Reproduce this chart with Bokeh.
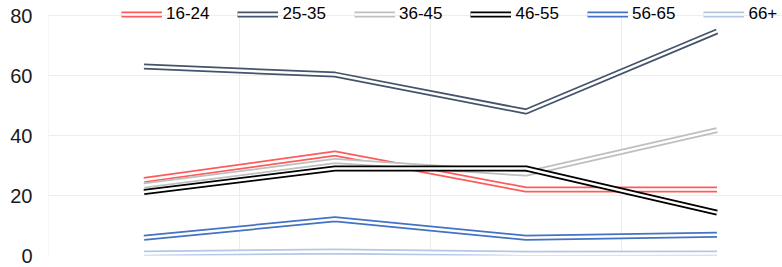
from bokeh.plotting import figure
from bokeh.models import Range1d, FixedTicker, Legend, LegendItem
from bokeh.embed import file_html
from bokeh.resources import INLINE

# categories (4 unlabeled positions)
x_pos = [0, 1, 2, 3]
category_bounds = [-0.5, 0.5, 1.5, 2.5, 3.5]
series_names = ["16-24", "25-35", "36-45", "46-55", "56-65", "66+"]
s_16_24 = [25.2, 34.0, 22.0, 22.0]
s_25_35 = [63.0, 60.3, 48.0, 74.7]
s_36_45 = [23.3, 31.5, 27.3, 41.8]
s_46_55 = [21.2, 29.0, 29.0, 14.3]
s_56_65 = [5.9, 12.1, 5.9, 6.9]
s_66_plus = [0.7, 1.3, 0.6, 0.7]
series_values = [s_16_24, s_25_35, s_36_45, s_46_55, s_56_65, s_66_plus]
colors = ["#FF5B5B", "#44546A", "#BFBFBF", "#000000", "#4472C4", "#B4C7E7"]
y_ticks = [0, 20, 40, 60, 80]
y_max = 80

frame_left = 48
width = 782
band = 191.0
frame_w = width - frame_left
x_end = -0.5 + frame_w / band
grid_color = "#EDEDED"

p = figure(width=width, height=267, output_backend="svg", toolbar_location=None,
           x_range=Range1d(-0.5, x_end), y_range=Range1d(0, 85),
           min_border_left=frame_left, min_border_right=0,
           min_border_top=0, min_border_bottom=12)
p.outline_line_color = None
p.background_fill_color = "white"
p.border_fill_color = "white"

p.xaxis.visible = False
p.xgrid.visible = False
p.ygrid.ticker = FixedTicker(ticks=y_ticks)
p.ygrid.grid_line_color = grid_color

# vertical category-boundary gridlines, spanning the value range only
n_b = len(category_bounds)
p.segment(x0=category_bounds, y0=[0] * n_b, x1=category_bounds, y1=[y_max] * n_b,
          line_color=grid_color, line_width=1)

p.yaxis.ticker = FixedTicker(ticks=y_ticks)
p.yaxis.axis_line_color = None
p.yaxis.major_tick_line_color = None
p.yaxis.minor_tick_line_color = None
p.yaxis.major_tick_out = 0
p.yaxis.major_label_standoff = 16
p.yaxis.major_label_text_font = "Liberation Sans"
p.yaxis.major_label_text_font_size = "20px"
p.yaxis.major_label_text_color = "#1a1a1a"

items = []
for name, vals, c in zip(series_names, series_values, colors):
    r1 = p.line(x_pos, vals, line_color=c, line_width=6)
    r2 = p.line(x_pos, vals, line_color="white", line_width=2.5)
    items.append(LegendItem(label=name, renderers=[r1, r2]))

legend = Legend(items=items, orientation="horizontal", location=(73, 231),
                padding=0, margin=0, spacing=28, label_standoff=4,
                glyph_width=41, glyph_height=10, label_height=10,
                label_text_font="Liberation Sans", label_text_font_size="17px",
                label_text_color="#000000",
                background_fill_alpha=0, border_line_alpha=0)
p.add_layout(legend, "center")

open("out.html", "w").write(file_html(p, INLINE))
